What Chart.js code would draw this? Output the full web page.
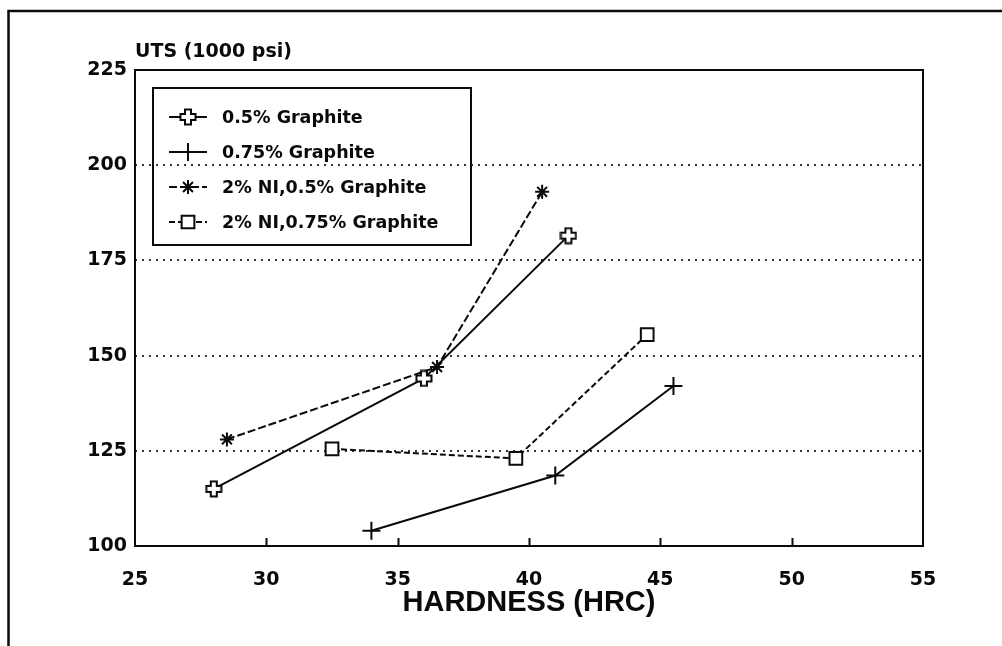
<!DOCTYPE html>
<html lang="en">
<head>
<meta charset="UTF-8">
<title>UTS vs Hardness</title>
<script src="https://cdn.jsdelivr.net/npm/chart.js"></script>
<style>
  html, body { margin: 0; padding: 0; background: #fff; }
</style>
</head>
<body>
<canvas id="utsChart" width="1002" height="646"></canvas>
<script>
// series read as (hardness HRC, UTS ksi)
const seriesNames = ['0.5% Graphite', '0.75% Graphite', '2% NI,0.5% Graphite', '2% NI,0.75% Graphite'];
const hardness05 = [28, 36, 41.5];
const uts05 = [115, 144, 181.5];
const hardness075 = [34, 41, 45.5];
const uts075 = [104, 118.5, 142];
const hardnessNi05 = [28.5, 36.5, 40.5];
const utsNi05 = [128, 147, 193];
const hardnessNi075 = [32.5, 39.5, 44.5];
const utsNi075 = [125.5, 123, 155.5];
const xTicks = [25, 30, 35, 40, 45, 50, 55];
const yTicks = [100, 125, 150, 175, 200, 225];

const ink = '#0a0a0a';
const boldFont = { family: 'DejaVu Sans', size: 19, weight: 'bold' };

const toPoints = (xs, ys) => xs.map((x, i) => ({ x: x, y: ys[i] }));

// hollow "+" marker used for the plain 0.5% series
function outlinedPlus(size, arm) {
  const c = document.createElement('canvas');
  c.width = c.height = size;
  const g = c.getContext('2d');
  const m = size / 2, a = arm / 2, r = size / 2 - 1.5;
  g.beginPath();
  g.moveTo(m - a, m - r); g.lineTo(m + a, m - r); g.lineTo(m + a, m - a);
  g.lineTo(m + r, m - a); g.lineTo(m + r, m + a); g.lineTo(m + a, m + a);
  g.lineTo(m + a, m + r); g.lineTo(m - a, m + r); g.lineTo(m - a, m + a);
  g.lineTo(m - r, m + a); g.lineTo(m - r, m - a); g.lineTo(m - a, m - a);
  g.closePath();
  g.fillStyle = '#fff';
  g.fill();
  g.lineWidth = 2;
  g.strokeStyle = ink;
  g.stroke();
  return c;
}

const plusMarker = outlinedPlus(18, 6);

const datasets = [
  { label: seriesNames[0], data: toPoints(hardness05, uts05), pointStyle: plusMarker, pointRadius: 9, borderDash: [] },
  { label: seriesNames[1], data: toPoints(hardness075, uts075), pointStyle: 'cross', pointRadius: 9, borderDash: [] },
  { label: seriesNames[2], data: toPoints(hardnessNi05, utsNi05), pointStyle: 'star', pointRadius: 7, borderDash: [8, 3] },
  { label: seriesNames[3], data: toPoints(hardnessNi075, utsNi075), pointStyle: 'rect', pointRadius: 9, borderDash: [6, 3] }
].map(d => Object.assign({
  showLine: true,
  borderColor: ink,
  borderWidth: 2,
  pointBorderColor: ink,
  pointBackgroundColor: '#fff',
  pointBorderWidth: 2,
  tension: 0
}, d));

// paper frame, plot box and inward x ticks
const frame = {
  id: 'frame',
  beforeDraw(chart) {
    const ctx = chart.ctx;
    ctx.save();
    ctx.fillStyle = '#fff';
    ctx.fillRect(0, 0, chart.width, chart.height);
    ctx.strokeStyle = ink;
    ctx.lineWidth = 2.5;
    ctx.beginPath();
    ctx.moveTo(8.5, chart.height);
    ctx.lineTo(8.5, 11);
    ctx.lineTo(chart.width, 11);
    ctx.stroke();
    ctx.restore();
  },
  afterDraw(chart) {
    const ctx = chart.ctx;
    const a = chart.chartArea;
    const xs = chart.scales.x;
    ctx.save();
    ctx.strokeStyle = ink;
    ctx.lineWidth = 2;
    ctx.strokeRect(a.left, a.top, a.right - a.left, a.bottom - a.top);
    ctx.beginPath();
    xTicks.slice(1, -1).forEach(v => {
      const px = Math.round(xs.getPixelForValue(v)) + 0.5;
      ctx.moveTo(px, a.bottom);
      ctx.lineTo(px, a.bottom - 8);
    });
    ctx.stroke();
    ctx.restore();
  }
};

// boxed legend inside the plot
const legendBox = {
  id: 'legendBox',
  afterDraw(chart) {
    const ctx = chart.ctx;
    const a = chart.chartArea;
    const x0 = a.left + 18, y0 = a.top + 18, w = 318, h = 157;
    ctx.save();
    ctx.strokeStyle = ink;
    ctx.fillStyle = ink;
    ctx.lineWidth = 2;
    ctx.strokeRect(x0, y0, w, h);
    ctx.font = 'bold 17.5px "DejaVu Sans"';
    ctx.textBaseline = 'middle';
    chart.data.datasets.forEach((ds, i) => {
      const y = y0 + 29 + i * 35;
      ctx.setLineDash(ds.borderDash);
      ctx.beginPath();
      ctx.moveTo(x0 + 16, y);
      ctx.lineTo(x0 + 54, y);
      ctx.stroke();
      ctx.setLineDash([]);
      ctx.fillStyle = '#fff';
      Chart.helpers.drawPoint(ctx, { pointStyle: ds.pointStyle, radius: ds.pointRadius, borderWidth: 2, rotation: 0 }, x0 + 35, y);
      ctx.fillStyle = ink;
      ctx.fillText(ds.label, x0 + 69, y + 1);
    });
    ctx.restore();
  }
};

new Chart(document.getElementById('utsChart'), {
  type: 'scatter',
  data: { datasets: datasets },
  plugins: [frame, legendBox],
  options: {
    responsive: false,
    animation: false,
    layout: { padding: { left: 0, right: 79, top: 0, bottom: 0 } },
    plugins: {
      legend: { display: false },
      tooltip: { enabled: false },
      title: {
        display: true,
        text: 'UTS (1000 psi)',
        align: 'start',
        fullSize: false,
        color: ink,
        font: boldFont,
        padding: { top: 40.6, bottom: 6.6 }
      }
    },
    scales: {
      x: {
        type: 'linear',
        min: 25,
        max: 55,
        afterBuildTicks: s => { s.ticks = xTicks.map(v => ({ value: v })); },
        afterFit: s => { s.height = 100; },
        ticks: { color: ink, font: boldFont, padding: 15, maxRotation: 0 },
        grid: { display: false },
        border: { display: false },
        title: {
          display: true,
          text: 'HARDNESS (HRC)',
          color: ink,
          font: { family: 'Liberation Sans', size: 29, weight: 'bold' },
          padding: { top: 0, bottom: 25.6 }
        }
      },
      y: {
        type: 'linear',
        min: 100,
        max: 225,
        afterBuildTicks: s => { s.ticks = yTicks.map(v => ({ value: v })); },
        afterFit: s => { s.width = 135; },
        ticks: { color: ink, font: boldFont, padding: 8 },
        grid: {
          drawTicks: false,
          lineWidth: 2,
          color: c => (c.tick && (c.tick.value === 100 || c.tick.value === 225)) ? 'rgba(0,0,0,0)' : '#333'
        },
        border: { display: false, dash: [2, 5] }
      }
    }
  }
});
</script>
</body>
</html>
